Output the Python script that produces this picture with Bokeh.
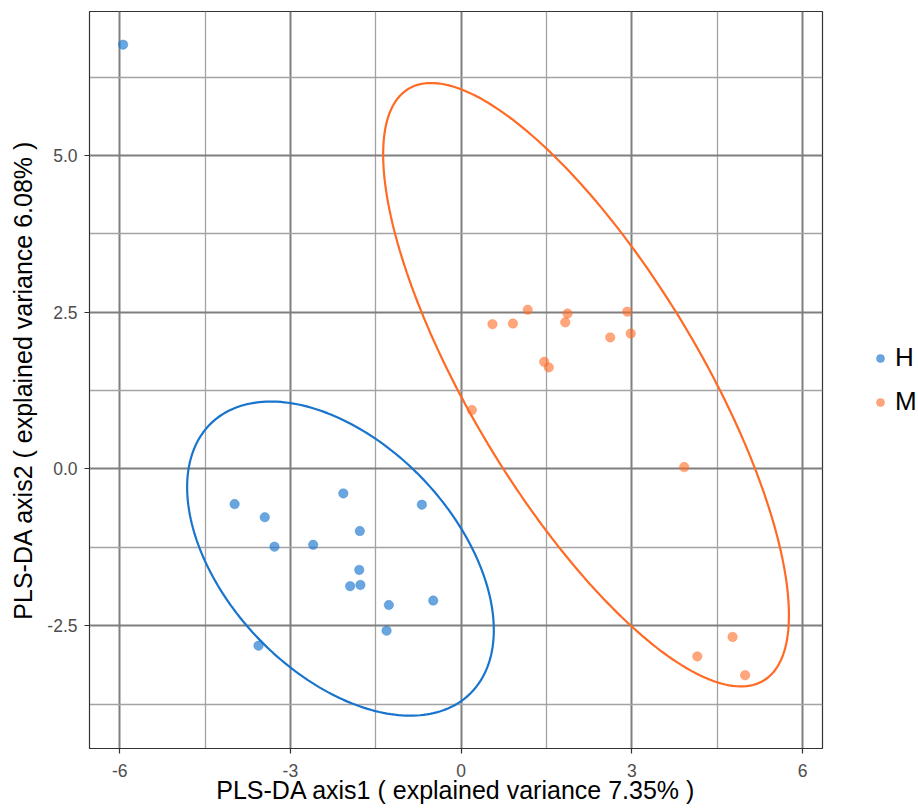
import numpy as np
from bokeh.plotting import figure
from bokeh.models import Range1d, FixedTicker, Legend, LegendItem
from bokeh.embed import file_html
from bokeh.resources import INLINE

# ---- data ----
h_x = [-5.94, -3.98, -3.45, -3.28, -2.60, -2.07, -0.69, -1.78, -1.79, -1.95, -1.77, -1.27, -0.49, -1.31, -3.56]
h_y = [6.77, -0.56, -0.77, -1.24, -1.21, -0.39, -0.57, -0.99, -1.61, -1.87, -1.85, -2.17, -2.10, -2.58, -2.82]
m_x = [0.19, 0.55, 0.91, 1.17, 1.46, 1.54, 1.87, 1.83, 2.62, 2.92, 2.98, 3.92, 4.77, 4.15, 4.99]
m_y = [0.94, 2.31, 2.32, 2.54, 1.71, 1.62, 2.48, 2.34, 2.10, 2.51, 2.16, 0.03, -2.68, -2.99, -3.29]

groups = ["H", "M"]
colors = ["#1874CD", "#FF6A24"]
# ellipse: centre and shape matrix (sxx, syy, sxy)
ell_cx = [-2.12, 2.195]
ell_cy = [-1.43, 1.345]
ell_sxx = [7.26, 12.71]
ell_syy = [6.28, 23.18]
ell_sxy = [-3.07, -13.1]

x_ticks = [-6, -3, 0, 3, 6]
x_labels = ["-6", "-3", "0", "3", "6"]
x_minor = [-4.5, -1.5, 1.5, 4.5]
y_ticks = [-2.5, 0, 2.5, 5.0]
y_labels = ["-2.5", "0.0", "2.5", "5.0"]
y_minor = [-3.75, -1.25, 1.25, 3.75, 6.25]

FONT = "Liberation Sans"

p = figure(frame_width=733, frame_height=737, output_backend="svg", toolbar_location=None,
           x_range=Range1d(-6.53, 6.35), y_range=Range1d(-4.46, 7.30),
           min_border_left=89, min_border_top=11, min_border_right=96, min_border_bottom=64)
p.background_fill_color = "white"
p.border_fill_color = "white"
p.outline_line_color = "#333333"
p.outline_line_width = 1.2

p.xaxis.ticker = FixedTicker(ticks=x_ticks, minor_ticks=x_minor)
p.yaxis.ticker = FixedTicker(ticks=y_ticks, minor_ticks=y_minor)
p.xaxis.major_label_overrides = {t: l for t, l in zip(x_ticks, x_labels)}
p.yaxis.major_label_overrides = {t: l for t, l in zip(y_ticks, y_labels)}

for g in (p.xgrid, p.ygrid):
    g.grid_line_color = "#7f7f7f"
    g.grid_line_width = 2
    g.minor_grid_line_color = "#a3a3a3"
    g.minor_grid_line_width = 1.3

for ax in (p.xaxis, p.yaxis):
    ax.axis_line_color = "#333333"
    ax.major_tick_line_color = "#333333"
    ax.major_tick_line_width = 1.2
    ax.major_tick_out = 5
    ax.major_tick_in = 0
    ax.minor_tick_line_color = None
    ax.major_label_text_font = FONT
    ax.major_label_text_font_size = "17.5px"
    ax.major_label_text_color = "#4d4d4d"
    ax.axis_label_text_font = FONT
    ax.axis_label_text_font_size = "25px"
    ax.axis_label_text_font_style = "normal"
    ax.axis_label_text_color = "black"
p.xaxis.axis_label = "PLS-DA axis1 ( explained variance 7.35% )"
p.yaxis.axis_label = "PLS-DA axis2 ( explained variance 6.08% )"
p.xaxis.major_label_standoff = 10
p.xaxis.axis_label_standoff = -4
p.yaxis.major_label_standoff = 7
p.yaxis.axis_label_standoff = 7

t = np.linspace(0, 2 * np.pi, 240)
for i in range(2):
    l11 = np.sqrt(ell_sxx[i])
    l21 = ell_sxy[i] / l11
    l22 = np.sqrt(ell_syy[i] - l21 ** 2)
    ex = ell_cx[i] + l11 * np.cos(t)
    ey = ell_cy[i] + l21 * np.cos(t) + l22 * np.sin(t)
    p.line(ex, ey, line_color=colors[i], line_width=2.2)

r_h = p.scatter(h_x, h_y, size=9.5, fill_color=colors[0], fill_alpha=0.65,
                line_color=colors[0], line_alpha=0.3)
r_m = p.scatter(m_x, m_y, size=9.5, fill_color=colors[1], fill_alpha=0.6,
                line_color=colors[1], line_alpha=0.3)

legend = Legend(items=[LegendItem(label=groups[0], renderers=[r_h]),
                       LegendItem(label=groups[1], renderers=[r_m])],
                location=(48, 331))
legend.border_line_color = None
legend.background_fill_alpha = 0
legend.label_text_font = FONT
legend.label_text_font_size = "26px"
legend.label_text_color = "black"
legend.glyph_width = 20
legend.glyph_height = 26
legend.label_height = 26
legend.spacing = 13
legend.label_standoff = 5
legend.padding = 0
legend.margin = 0
p.add_layout(legend, "right")

open("out.html", "w").write(file_html(p, INLINE))
